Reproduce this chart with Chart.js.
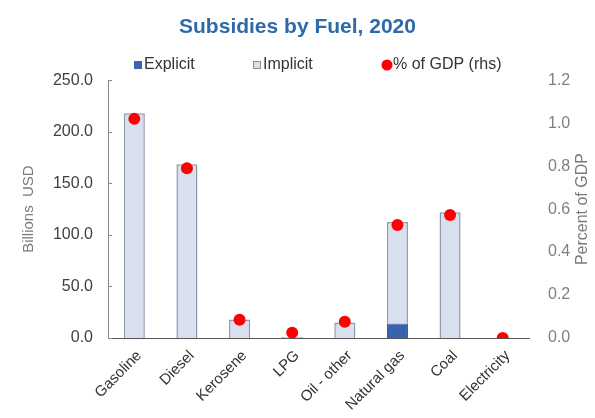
<!DOCTYPE html>
<html>
<head>
<meta charset="utf-8">
<script src="https://cdn.jsdelivr.net/npm/chart.js@4.4.1/dist/chart.umd.min.js"></script>
<style>
  html, body { margin: 0; padding: 0; background: #ffffff; }
  #wrap { width: 595px; height: 418px; position: relative; }
</style>
</head>
<body>
<div id="wrap"><canvas id="c" width="595" height="418"></canvas></div>
<script>
const categories = ["Gasoline", "Diesel", "Kerosene", "LPG", "Oil - other", "Natural gas", "Coal", "Electricity"];
const explicitValues = [0, 0, 0, 0, 0, 14, 0, 0];
const implicitValues = [218, 168.5, 18, 1, 15, 98.5, 122, 0];
const gdpPercent = [1.02, 0.79, 0.085, 0.025, 0.076, 0.526, 0.572, 0.0];
const leftTicks = [0, 50, 100, 150, 200, 250];
const rightTicks = [0, 0.2, 0.4, 0.6, 0.8, 1.0, 1.2];

const FONT = "'Liberation Sans', Arial, sans-serif";

const customLegend = {
  id: 'customLegend',
  afterDraw(chart) {
    const ctx = chart.ctx;
    const ds = chart.data.datasets;
    const y = 65;
    ctx.save();
    ctx.font = "16px " + FONT;
    ctx.textBaseline = 'middle';
    ctx.textAlign = 'left';
    // Explicit
    ctx.fillStyle = ds[0].backgroundColor;
    ctx.fillRect(134, y - 4, 8, 8);
    ctx.fillStyle = '#333333';
    ctx.fillText(ds[0].label, 144, y);
    // Implicit
    ctx.fillStyle = ds[1].backgroundColor;
    ctx.fillRect(253.5, y - 3.5, 7, 7);
    ctx.strokeStyle = '#8e8e8e';
    ctx.lineWidth = 1;
    ctx.strokeRect(253.5, y - 3.5, 7, 7);
    ctx.fillStyle = '#333333';
    ctx.fillText(ds[1].label, 263, y);
    // GDP
    ctx.beginPath();
    ctx.arc(387, y, 5.5, 0, Math.PI * 2);
    ctx.fillStyle = ds[2].backgroundColor;
    ctx.fill();
    ctx.fillStyle = '#333333';
    ctx.fillText(ds[2].label, 393, y);
    ctx.restore();
  }
};

const extras = {
  id: 'extras',
  afterDraw(chart) {
    const ctx = chart.ctx;
    const ys = chart.scales.y;
    const ca = chart.chartArea;
    ctx.save();
    ctx.strokeStyle = '#888888';
    ctx.lineWidth = 1;
    leftTicks.forEach(v => {
      const py = Math.round(ys.getPixelForValue(v)) + 0.5;
      ctx.beginPath();
      ctx.moveTo(ca.left, py);
      ctx.lineTo(ca.left + 4, py);
      ctx.stroke();
    });
    ctx.translate(583, (ca.top + ca.bottom) / 2);
    ctx.rotate(-Math.PI / 2);
    ctx.font = "16px " + FONT;
    ctx.fillStyle = '#7a7a7a';
    ctx.textAlign = 'center';
    ctx.textBaseline = 'middle';
    ctx.fillText('Percent of GDP', 0, 0);
    ctx.restore();
  }
};

new Chart(document.getElementById('c'), {
  data: {
    labels: categories,
    datasets: [
      {
        type: 'bar',
        label: 'Explicit',
        data: explicitValues,
        yAxisID: 'y',
        stack: 's',
        backgroundColor: '#3a63ae',
        borderColor: '#2c4f8c',
        borderWidth: 1,
        order: 1
      },
      {
        type: 'bar',
        label: 'Implicit',
        data: implicitValues,
        yAxisID: 'y',
        stack: 's',
        backgroundColor: '#d8e0f0',
        borderColor: '#8d97aa',
        borderWidth: 1.5,
        order: 1
      },
      {
        type: 'line',
        label: '% of GDP (rhs)',
        data: gdpPercent,
        yAxisID: 'y1',
        showLine: false,
        pointRadius: 6,
        pointHoverRadius: 6,
        backgroundColor: '#ff0000',
        borderColor: '#ff0000',
        pointBorderWidth: 0,
        order: 0
      }
    ]
  },
  options: {
    responsive: false,
    animation: false,
    events: [],
    layout: { padding: { left: 0, right: 0, top: 0, bottom: 0 } },
    datasets: { bar: { categoryPercentage: 1.0, barPercentage: 0.4 } },
    plugins: {
      legend: { display: false },
      tooltip: { enabled: false },
      title: {
        display: true,
        text: 'Subsidies by Fuel, 2020',
        color: '#2e6aa8',
        font: { family: FONT, size: 21, weight: 'bold' },
        padding: { top: 15, bottom: 40 }
      }
    },
    scales: {
      x: {
        type: 'category',
        stacked: true,
        offset: true,
        grid: { display: false, drawTicks: false },
        border: { display: true, color: '#555555', width: 1 },
        ticks: {
          color: '#333333',
          font: { family: FONT, size: 15 },
          minRotation: 45,
          maxRotation: 45,
          padding: 9,
          labelOffset: 5,
          autoSkip: false
        },
        afterFit(s) { s.height = 80; }
      },
      y: {
        type: 'linear',
        position: 'left',
        stacked: true,
        min: 0,
        max: 250,
        afterBuildTicks(s) { s.ticks = leftTicks.map(v => ({ value: v })); },
        grid: { display: false, drawTicks: false },
        border: { display: true, color: '#888888', width: 1 },
        ticks: {
          color: '#404040',
          font: { family: FONT, size: 16 },
          padding: 15,
          callback: v => Number(v).toFixed(1)
        },
        title: {
          display: true,
          text: 'Billions  USD',
          color: '#7a7a7a',
          font: { family: FONT, size: 15 },
          padding: { top: 20, bottom: 0 }
        },
        afterFit(s) { s.width = 108; }
      },
      y1: {
        type: 'linear',
        position: 'right',
        min: 0,
        max: 1.2,
        afterBuildTicks(s) { s.ticks = rightTicks.map(v => ({ value: v })); },
        grid: { display: false, drawTicks: false, drawOnChartArea: false },
        border: { display: false },
        ticks: {
          color: '#808080',
          font: { family: FONT, size: 16 },
          padding: 19,
          callback: v => Number(v).toFixed(1)
        },
        afterFit(s) { s.width = 66; }
      }
    }
  },
  plugins: [customLegend, extras]
});
</script>
</body>
</html>
